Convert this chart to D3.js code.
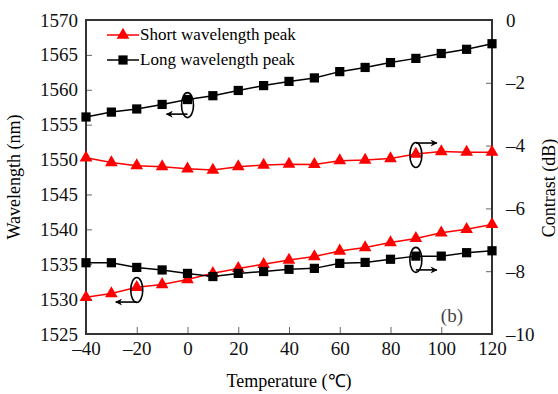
<!DOCTYPE html>
<html>
<head>
<meta charset="utf-8">
<script src="https://cdn.jsdelivr.net/npm/d3@7"></script>
<style>
  body { margin: 0; background: #fff; }
</style>
</head>
<body>
<div id="chart"></div>
<script>
  const temps = [-40, -30, -20, -10, 0, 10, 20, 30, 40, 50, 60, 70, 80, 90, 100, 110, 120];
  // left axis (wavelength, nm)
  const longWavelength = [1556.1, 1556.8, 1557.25, 1557.9, 1558.6, 1559.15, 1559.9, 1560.6, 1561.2, 1561.7, 1562.6, 1563.2, 1563.9, 1564.5, 1565.2, 1565.8, 1566.6];
  const shortWavelength = [1530.26, 1530.8, 1531.7, 1532.1, 1532.8, 1533.7, 1534.4, 1535.0, 1535.6, 1536.1, 1536.9, 1537.4, 1538.1, 1538.7, 1539.5, 1540.0, 1540.7];
  // right axis (contrast, dB)
  const shortContrast = [-4.39, -4.54, -4.64, -4.67, -4.74, -4.78, -4.67, -4.62, -4.59, -4.6, -4.48, -4.46, -4.41, -4.27, -4.19, -4.21, -4.21];
  const longContrast = [-7.73, -7.73, -7.88, -7.96, -8.07, -8.17, -8.07, -8.01, -7.94, -7.91, -7.75, -7.72, -7.62, -7.52, -7.52, -7.41, -7.35];

  const xTicks = [-40, -20, 0, 20, 40, 60, 80, 100, 120];
  const leftTicks = [1525, 1530, 1535, 1540, 1545, 1550, 1555, 1560, 1565, 1570];
  const rightTicks = [0, -2, -4, -6, -8, -10];
  const legendLabels = ["Short wavelength peak", "Long wavelength peak"];

  // ellipse markers: temperature, axis value, which axis, arrow direction, arrow offset
  const callouts = [
    { t: 0, v: 1557.8, axis: "left", dir: -1, off: 9 },
    { t: 90, v: -4.3, axis: "right", dir: 1, off: -12 },
    { t: -20, v: 1531.3, axis: "left", dir: -1, off: 12 },
    { t: 90, v: -7.64, axis: "right", dir: 1, off: 10 }
  ];

  const W = 558, H = 394;
  const margin = { top: 20, right: 66, bottom: 60, left: 86 };
  const iw = W - margin.left - margin.right;
  const ih = H - margin.top - margin.bottom;
  const red = "#ff0000";
  const font = "'Liberation Serif', 'Times New Roman', Times, serif";
  const fmt = (d) => (d < 0 ? "\u2013" + Math.abs(d) : "" + d);

  const x = d3.scaleLinear().domain([-40, 120]).range([0, iw]);
  const yL = d3.scaleLinear().domain([1525, 1570]).range([ih, 0]);
  const yR = d3.scaleLinear().domain([-10, 0]).range([ih, 0]);

  const svg = d3.select("#chart").append("svg")
    .attr("width", W).attr("height", H)
    .attr("font-family", font);
  const g = svg.append("g").attr("transform", `translate(${margin.left},${margin.top})`);

  // axes
  const styleAxis = (sel) => {
    sel.attr("font-family", font);
    sel.select(".domain").remove();
    sel.selectAll("line").attr("stroke", "#666").attr("stroke-width", 1);
    sel.selectAll("text").attr("font-size", "19px").attr("fill", "#111");
  };

  g.append("g").attr("transform", `translate(0,${ih})`)
    .call(d3.axisBottom(x).tickValues(xTicks).tickSizeInner(-7).tickSizeOuter(0).tickPadding(8).tickFormat(fmt))
    .call(styleAxis);

  g.append("g")
    .call(d3.axisLeft(yL).tickValues(leftTicks).tickSizeInner(-6).tickSizeOuter(0).tickPadding(8).tickFormat(fmt))
    .call(styleAxis);

  g.append("g").attr("transform", `translate(${iw},0)`)
    .call(d3.axisRight(yR).tickValues(rightTicks).tickSizeInner(-6).tickSizeOuter(0).tickPadding(14).tickFormat(fmt))
    .call(styleAxis);

  // frame
  g.append("rect")
    .attr("x", 0).attr("y", 0).attr("width", iw).attr("height", ih)
    .attr("fill", "none").attr("stroke", "#333").attr("stroke-width", 2);

  // axis titles
  svg.append("text")
    .attr("x", margin.left + iw / 2).attr("y", 387)
    .attr("text-anchor", "middle").attr("font-size", "18px")
    .text("Temperature (\u2103)");

  svg.append("text")
    .attr("transform", `translate(20,${margin.top + ih / 2}) rotate(-90)`)
    .attr("text-anchor", "middle").attr("font-size", "18px")
    .text("Wavelength (nm)");

  svg.append("text")
    .attr("transform", `translate(555,188) rotate(-90)`)
    .attr("text-anchor", "middle").attr("font-size", "18px")
    .text("Contrast (dB)");

  // series
  const series = [
    { vals: longWavelength, y: yL, color: "#000", shape: "square" },
    { vals: shortWavelength, y: yL, color: red, shape: "triangle" },
    { vals: shortContrast, y: yR, color: red, shape: "triangle" },
    { vals: longContrast, y: yR, color: "#000", shape: "square" }
  ];

  const triSym = d3.symbol().type(d3.symbolTriangle).size(70);
  const sqSym = d3.symbol().type(d3.symbolSquare).size(85);

  series.forEach((s) => {
    const pts = temps.map((t, i) => ({ t, v: s.vals[i] }));
    g.append("path").datum(pts)
      .attr("fill", "none").attr("stroke", s.color).attr("stroke-width", 1.5)
      .attr("d", d3.line().x((d) => x(d.t)).y((d) => s.y(d.v)));
    g.selectAll(null).data(pts).enter().append("path")
      .attr("transform", (d) => `translate(${x(d.t)},${s.y(d.v)})`)
      .attr("d", s.shape === "square" ? sqSym : triSym)
      .attr("fill", s.color);
  });

  // callouts: ellipse + arrow
  svg.append("defs").append("marker")
    .attr("id", "head").attr("viewBox", "0 0 10 10")
    .attr("refX", 9).attr("refY", 5)
    .attr("markerWidth", 10).attr("markerHeight", 7)
    .attr("markerUnits", "userSpaceOnUse").attr("orient", "auto")
    .append("path").attr("d", "M0,0 L10,5 L0,10 L3,5 Z").attr("fill", "#000");

  callouts.forEach((c) => {
    const cx = x(c.t);
    const cy = (c.axis === "left" ? yL : yR)(c.v);
    g.append("ellipse")
      .attr("cx", cx).attr("cy", cy).attr("rx", 6).attr("ry", 12.5)
      .attr("fill", "none").attr("stroke", "#000").attr("stroke-width", 1.6);
    const ay = cy + c.off;
    g.append("path")
      .attr("d", `M${cx},${ay} L${cx + c.dir * 21},${ay}`)
      .attr("stroke", "#000").attr("stroke-width", 1.6).attr("fill", "none")
      .attr("marker-end", "url(#head)");
  });

  // legend
  const legend = svg.append("g");
  legendLabels.forEach((lab, i) => {
    const ly = 35 + i * 25;
    const color = i === 0 ? red : "#000";
    legend.append("line")
      .attr("x1", 107).attr("x2", 139).attr("y1", ly).attr("y2", ly)
      .attr("stroke", color).attr("stroke-width", 1.5);
    legend.append("path")
      .attr("transform", `translate(123,${ly})`)
      .attr("d", i === 0 ? triSym : sqSym)
      .attr("fill", color);
    legend.append("text")
      .attr("x", 140).attr("y", ly + 5)
      .attr("font-size", "17px")
      .text(lab);
  });

  // panel label
  g.append("text")
    .attr("x", iw - 29).attr("y", ih - 12)
    .attr("text-anchor", "end").attr("font-size", "19px").attr("fill", "#444")
    .text("(b)");
</script>
</body>
</html>
